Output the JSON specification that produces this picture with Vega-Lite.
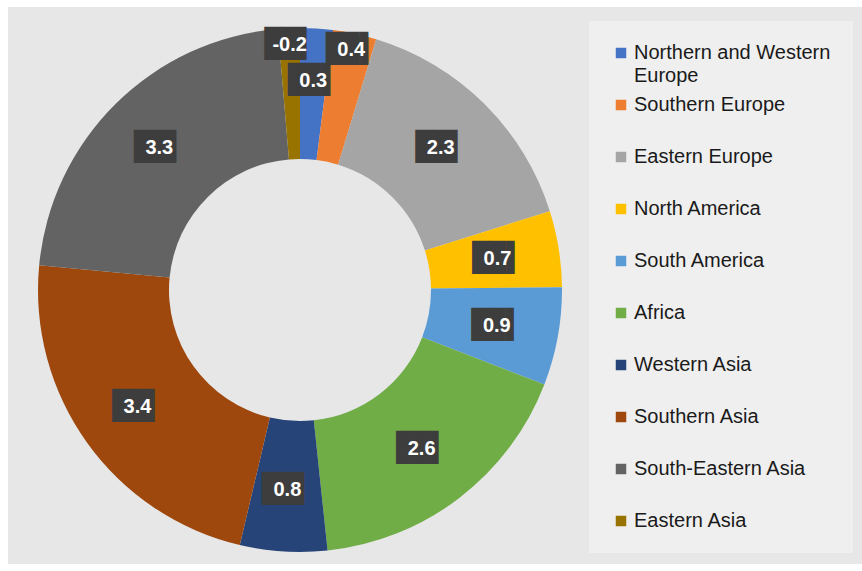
{
  "$schema": "https://vega.github.io/schema/vega-lite/v6.json",
  "width": 854,
  "height": 557,
  "padding": {"left": 8, "top": 7, "right": 0, "bottom": 0},
  "autosize": {"type": "pad"},
  "background": "#ffffff",
  "view": {"fill": "#e7e7e7", "stroke": null},
  "config": {
    "legend": {
      "orient": "none",
      "legendX": 581,
      "legendY": 14,
      "direction": "vertical",
      "padding": 22,
      "fillColor": "#efefef",
      "symbolType": "square",
      "symbolSize": 110,
      "symbolStrokeWidth": 0,
      "labelFont": "Liberation Sans",
      "labelFontSize": 20,
      "labelColor": "#1a1a1a",
      "labelOffset": 3,
      "labelLimit": 300,
      "gridAlign": "all",
      "rowPadding": 9
    }
  },
  "data": {
    "values": [
      {"idx": 1, "region": "Northern and Western Europe", "value": 0.3, "share": 0.3},
      {"idx": 2, "region": "Southern Europe", "value": 0.4, "share": 0.4},
      {"idx": 3, "region": "Eastern Europe", "value": 2.3, "share": 2.3},
      {"idx": 4, "region": "North America", "value": 0.7, "share": 0.7},
      {"idx": 5, "region": "South America", "value": 0.9, "share": 0.9},
      {"idx": 6, "region": "Africa", "value": 2.6, "share": 2.6},
      {"idx": 7, "region": "Western Asia", "value": 0.8, "share": 0.8},
      {"idx": 8, "region": "Southern Asia", "value": 3.4, "share": 3.4},
      {"idx": 9, "region": "South-Eastern Asia", "value": 3.3, "share": 3.3},
      {"idx": 10, "region": "Eastern Asia", "value": -0.2, "share": 0.2}
    ]
  },
  "encoding": {
    "theta": {"field": "share", "type": "quantitative", "stack": true},
    "order": {"field": "idx", "type": "quantitative"}
  },
  "layer": [
    {
      "mark": {"type": "arc", "x": 292, "y": 283, "radius": 262, "radius2": 131},
      "encoding": {
        "color": {
          "field": "region",
          "type": "nominal",
          "sort": ["Northern and Western Europe", "Southern Europe", "Eastern Europe", "North America", "South America", "Africa", "Western Asia", "Southern Asia", "South-Eastern Asia", "Eastern Asia"],
          "scale": {"range": ["#4472C4", "#ED7D31", "#A5A5A5", "#FFC000", "#5B9BD5", "#70AD47", "#264478", "#9E480E", "#636363", "#997300"]},
          "legend": {
            "title": null,
            "labelExpr": "datum.label == 'Northern and Western Europe' ? ['Northern and Western', 'Europe'] : datum.label",
            "encode": {"labels": {"update": {"lineHeight": {"value": 23}}}}
          }
        }
      }
    },
    {
      "mark": {"type": "text", "x": 292, "y": 283, "radius": 200, "text": "██▌", "font": "DejaVu Sans Mono", "fontSize": 28, "color": "#3d3d3d", "align": "center", "baseline": "middle"},
      "encoding": {
        "detail": {"field": "region"},
        "opacity": {"condition": {"test": "indexof(['Southern Europe','Eastern Asia','Northern and Western Europe'], datum.region) >= 0", "value": 0}, "value": 1}
      }
    },
    {
      "mark": {"type": "text", "x": 292, "y": 283, "radius": 200, "font": "Liberation Sans", "fontWeight": "bold", "fontSize": 20, "color": "#ffffff", "align": "center", "baseline": "middle"},
      "encoding": {
        "detail": {"field": "region"},
        "text": {"field": "value", "type": "nominal"},
        "opacity": {"condition": {"test": "indexof(['Southern Europe','Eastern Asia','Northern and Western Europe'], datum.region) >= 0", "value": 0}, "value": 1}
      }
    },
    {
      "mark": {"type": "text", "x": 292, "y": 283, "radius": 245, "text": "██▌", "font": "DejaVu Sans Mono", "fontSize": 28, "color": "#3d3d3d", "align": "center", "baseline": "middle"},
      "encoding": {
        "detail": {"field": "region"},
        "opacity": {"condition": {"test": "indexof(['Southern Europe','Eastern Asia'], datum.region) >= 0", "value": 1}, "value": 0}
      }
    },
    {
      "mark": {"type": "text", "x": 292, "y": 283, "radius": 245, "font": "Liberation Sans", "fontWeight": "bold", "fontSize": 20, "color": "#ffffff", "align": "center", "baseline": "middle"},
      "encoding": {
        "detail": {"field": "region"},
        "text": {"field": "value", "type": "nominal"},
        "opacity": {"condition": {"test": "indexof(['Southern Europe','Eastern Asia'], datum.region) >= 0", "value": 1}, "value": 0}
      }
    },
    {
      "mark": {"type": "text", "x": 292, "y": 283, "radius": 209, "text": "██▌", "font": "DejaVu Sans Mono", "fontSize": 28, "color": "#3d3d3d", "align": "center", "baseline": "middle"},
      "encoding": {
        "detail": {"field": "region"},
        "opacity": {"condition": {"test": "datum.region == 'Northern and Western Europe'", "value": 1}, "value": 0}
      }
    },
    {
      "mark": {"type": "text", "x": 292, "y": 283, "radius": 209, "font": "Liberation Sans", "fontWeight": "bold", "fontSize": 20, "color": "#ffffff", "align": "center", "baseline": "middle"},
      "encoding": {
        "detail": {"field": "region"},
        "text": {"field": "value", "type": "nominal"},
        "opacity": {"condition": {"test": "datum.region == 'Northern and Western Europe'", "value": 1}, "value": 0}
      }
    }
  ]
}
